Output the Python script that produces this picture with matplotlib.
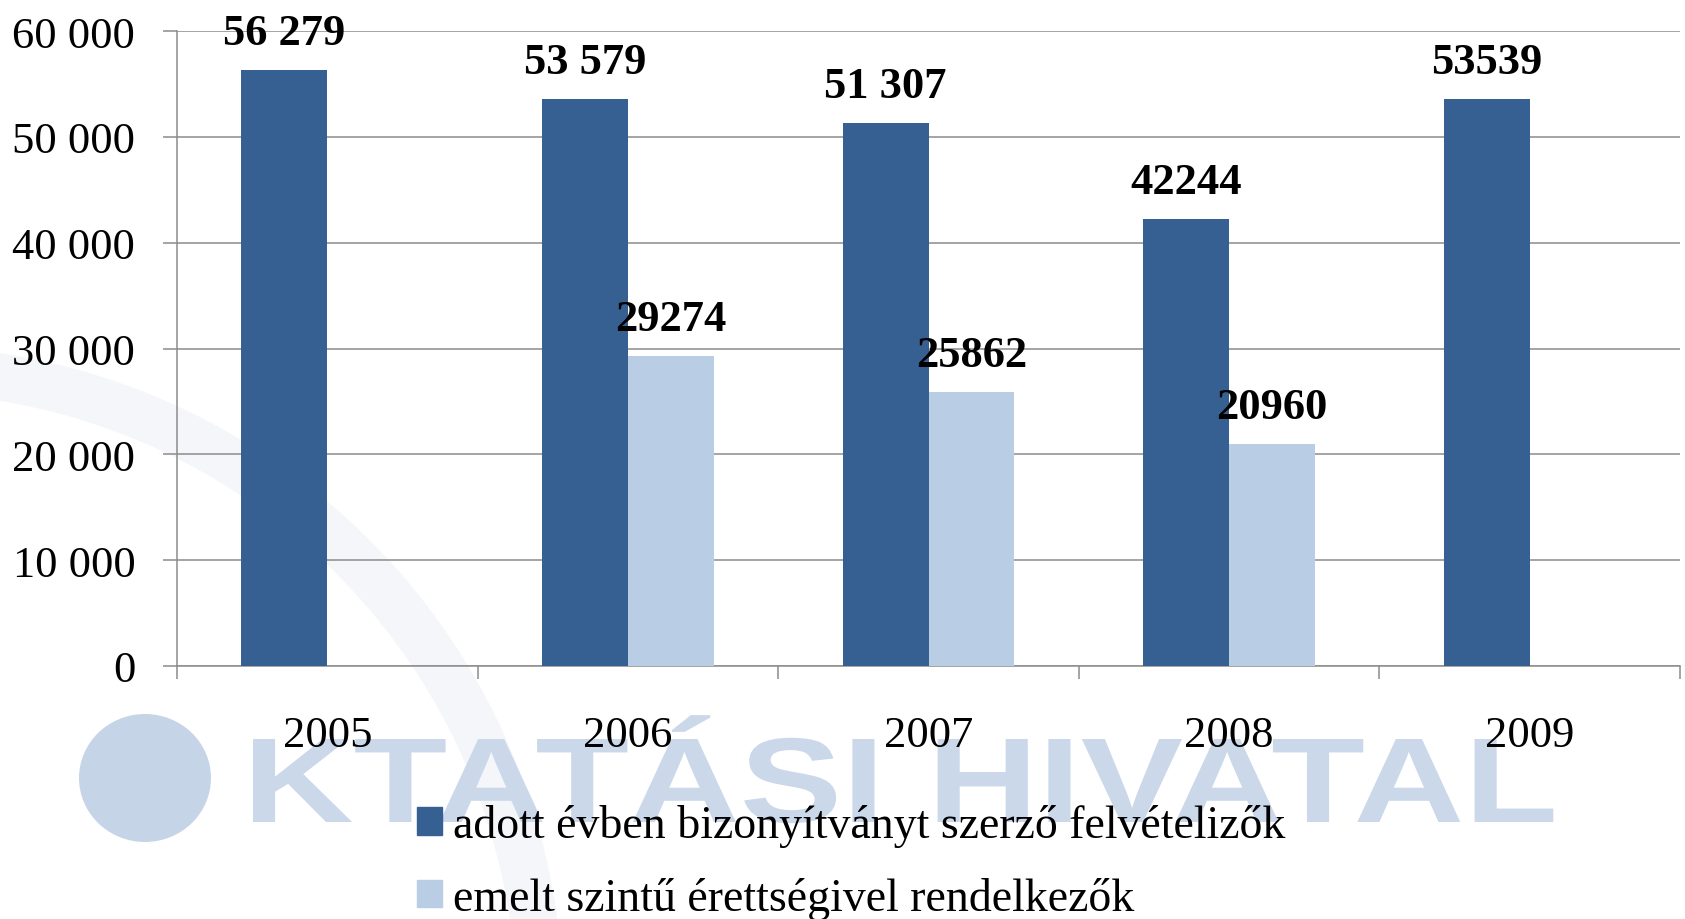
import numpy as np
import matplotlib
matplotlib.use("Agg")
import matplotlib.pyplot as plt
from matplotlib.patches import Patch, PathPatch, Ellipse, Arc
from matplotlib.textpath import TextPath
from matplotlib.font_manager import FontProperties
from matplotlib.transforms import Affine2D
from matplotlib.ticker import FuncFormatter

# adatok
years = ['2005', '2006', '2007', '2008', '2009']
felveteli = [56279, 53579, 51307, 42244, 53539]
felveteli_cimke = ['56 279', '53 579', '51 307', '42244', '53539']
emelt = [np.nan, 29274, 25862, 20960, np.nan]
emelt_cimke = ['', '29274', '25862', '20960', '']
series_names = ['adott évben bizonyítványt szerző felvételizők',
                'emelt szintű érettségivel rendelkezők']

dark = '#376092'
light = '#B9CDE5'
gray = '#8C8C8C'
W, H = 1685, 920

plt.rcParams['font.family'] = 'Liberation Serif'

fig = plt.figure(figsize=(W / 100, H / 100), dpi=100)
fig.patch.set_facecolor('white')

# halvany hatter vizjel (ives csik, kor, felirat)
arc = Arc((-100, H - 1010), 1280, 1280, theta1=5, theta2=88, lw=34,
          color='#F5F6F9', transform=Affine2D(), zorder=-3)
fig.add_artist(arc)
circ = Ellipse((145, H - 779), 132, 128, fc='#C6D4E7', ec='none',
               transform=Affine2D(), zorder=-2)
fig.add_artist(circ)
fp = FontProperties(family='Liberation Sans', weight='bold')
tp = TextPath((0, 0), 'KTATÁSI HIVATAL', size=100, prop=fp)
plain = TextPath((0, 0), 'KTATASI HIVATAL', size=100, prop=fp).get_extents()
cap = TextPath((0, 0), 'H', size=100, prop=fp).get_extents()
sx = (1542 - 253) / plain.width
sy = 83 / cap.height
tr = Affine2D().translate(-plain.x0, 0).scale(sx, sy).translate(253, H - 823)
fig.add_artist(PathPatch(tp, transform=tr, fc='#CBD8EA', ec='none', zorder=-2))

ax = fig.add_axes([177 / W, 1 - 667 / H, (1680 - 177) / W, (667 - 32) / H])
ax.set_facecolor('none')

x = np.arange(len(years))
w = 0.286
b1 = ax.bar(x - w / 2, felveteli, w, color=dark, zorder=3)
b2 = ax.bar(x + w / 2, emelt, w, color=light, zorder=3)

for xi, v, s in zip(x, felveteli, felveteli_cimke):
    ax.annotate(s, (xi - w / 2, v), xytext=(0, 19), textcoords='offset points',
                ha='center', va='baseline', fontsize=32, fontweight='bold')
for xi, v, s in zip(x, emelt, emelt_cimke):
    if s:
        ax.annotate(s, (xi + w / 2, v), xytext=(0, 19), textcoords='offset points',
                    ha='center', va='baseline', fontsize=32, fontweight='bold')

ax.set_ylim(0, 60000)
ax.set_yticks(np.arange(0, 60001, 10000))
ax.yaxis.set_major_formatter(FuncFormatter(lambda v, p: f'{int(v):,}'.replace(',', ' ')))
ax.set_xlim(-0.5, 4.5)
ax.set_xticks(x)
ax.set_xticklabels(years)
ax.set_xticks(np.arange(-0.5, 5, 1), minor=True)

ax.tick_params(axis='x', which='major', length=0, pad=35, labelsize=32)
ax.tick_params(axis='x', which='minor', length=9.5, width=1.1, color=gray)
ax.tick_params(axis='y', length=10, width=1.1, color=gray, pad=20, labelsize=32)

ax.grid(axis='y', color=gray, lw=1.1, zorder=0)
ax.set_axisbelow(True)
for sp in ['top', 'right']:
    ax.spines[sp].set_visible(False)
for sp in ['left', 'bottom']:
    ax.spines[sp].set_color(gray)
    ax.spines[sp].set_linewidth(1.1)

handles = [Patch(color=dark), Patch(color=light)]
fig.legend(handles, series_names, loc='upper left',
           bbox_to_anchor=(417 / W, 1 - 805 / H), frameon=False, fontsize=33,
           borderpad=0, borderaxespad=0, handlelength=0.55, handleheight=0.55,
           handletextpad=0.24, labelspacing=0.65)

fig.savefig('out.png', dpi=100)
